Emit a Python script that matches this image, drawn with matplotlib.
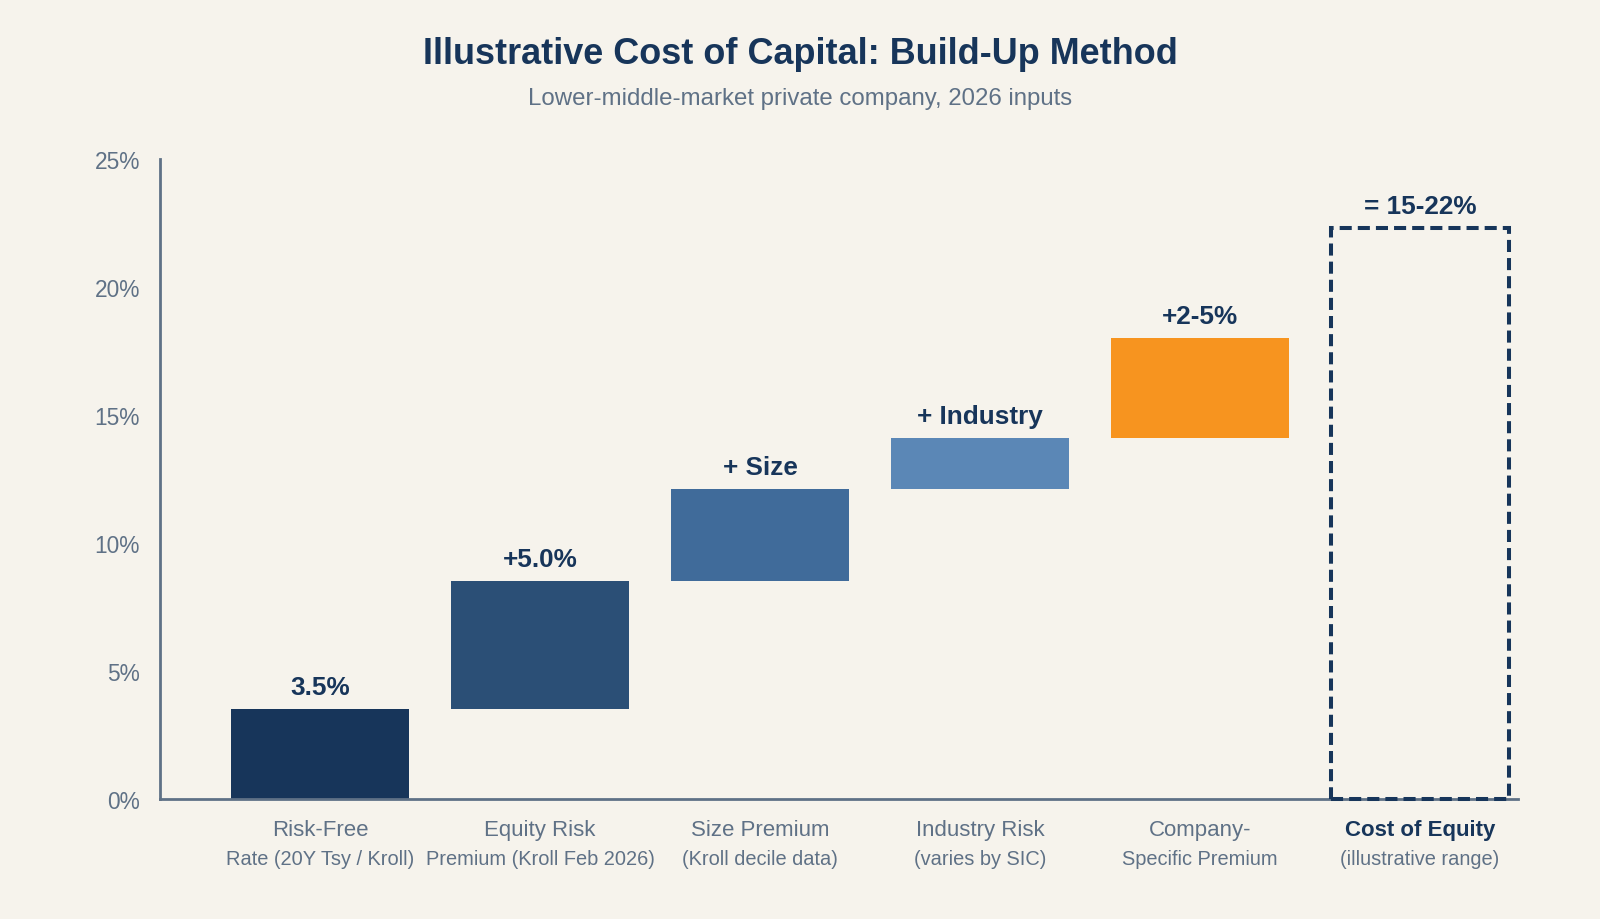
import matplotlib
matplotlib.use("Agg")
import matplotlib.pyplot as plt
from matplotlib.patches import Rectangle

# data
steps_main = ["Risk-Free", "Equity Risk", "Size Premium", "Industry Risk", "Company-", "Cost of Equity"]
steps_sub = ["Rate (20Y Tsy / Kroll)", "Premium (Kroll Feb 2026)", "(Kroll decile data)",
             "(varies by SIC)", "Specific Premium", "(illustrative range)"]
bar_bottom = [0.0, 3.5, 8.5, 12.1, 14.1]
bar_top = [3.5, 8.5, 12.1, 14.1, 18.0]
bar_labels = ["3.5%", "+5.0%", "+ Size", "+ Industry", "+2-5%"]
total_bottom = 0.0
total_top = 22.3
total_label = "= 15-22%"
yticks = [0, 5, 10, 15, 20, 25]
ytick_labels = ["0%", "5%", "10%", "15%", "20%", "25%"]

bar_colors = ["#17355a", "#2b4f76", "#406b9a", "#5b87b6", "#f7941f"]
navy = "#17355a"
grey = "#5f7186"
bg = "#f6f3ec"

plt.rcParams['font.family'] = ['Liberation Sans', 'DejaVu Sans']

fig = plt.figure(figsize=(16, 9.2), dpi=100, facecolor=bg)
ax = fig.add_axes([0.1, 0.1304, 0.84875, 0.6957])
ax.set_facecolor(bg)

width = 0.81
x = list(range(len(bar_top)))
heights = [t - b for t, b in zip(bar_top, bar_bottom)]
ax.bar(x, heights, bottom=bar_bottom, width=width, color=bar_colors, zorder=2)

for xi, top, lab in zip(x, bar_top, bar_labels):
    ax.annotate(lab, xy=(xi, top), xytext=(0, 16), textcoords='offset points',
                ha='center', va='center', fontsize=18.8, fontweight='bold', color=navy)

# total (range) box, dashed outline
xt = len(bar_top)
box = Rectangle((xt - width / 2, total_bottom), width, total_top - total_bottom,
                fill=False, edgecolor=navy, linewidth=2.9, linestyle=(0, (3, 1.5)),
                zorder=4, clip_on=False)
ax.add_patch(box)
ax.annotate(total_label, xy=(xt, total_top), xytext=(0, 16), textcoords='offset points',
            ha='center', va='center', fontsize=18.8, fontweight='bold', color=navy)

ax.set_xlim(-0.727, 5.445)
ax.set_ylim(0, 25)
ax.set_yticks(yticks)
ax.set_yticklabels(ytick_labels)
ax.set_xticks([])
ax.tick_params(axis='y', length=0, pad=14.5, labelsize=16.4, labelcolor=grey)

for s in ['top', 'right']:
    ax.spines[s].set_visible(False)
for s in ['left', 'bottom']:
    ax.spines[s].set_color(grey)
    ax.spines[s].set_linewidth(2)

# two-line category labels under the axis
for i, (m, s) in enumerate(zip(steps_main, steps_sub)):
    last = i == len(steps_main) - 1
    ax.annotate(m, xy=(i, 0), xytext=(0, -22), textcoords='offset points',
                ha='center', va='center', fontsize=16,
                fontweight='bold' if last else 'normal', color=navy if last else grey,
                annotation_clip=False)
    ax.annotate(s, xy=(i, 0), xytext=(0, -42.5), textcoords='offset points',
                ha='center', va='center', fontsize=14.4, color=grey, annotation_clip=False)

fig.text(0.5, 1 - 54 / 920, "Illustrative Cost of Capital: Build-Up Method",
         ha='center', va='center', fontsize=25.9, fontweight='bold', color=navy)
fig.text(0.5, 1 - 99 / 920, "Lower-middle-market private company, 2026 inputs",
         ha='center', va='center', fontsize=17.3, color=grey)

fig.savefig("out.png", dpi=100, facecolor=bg)
